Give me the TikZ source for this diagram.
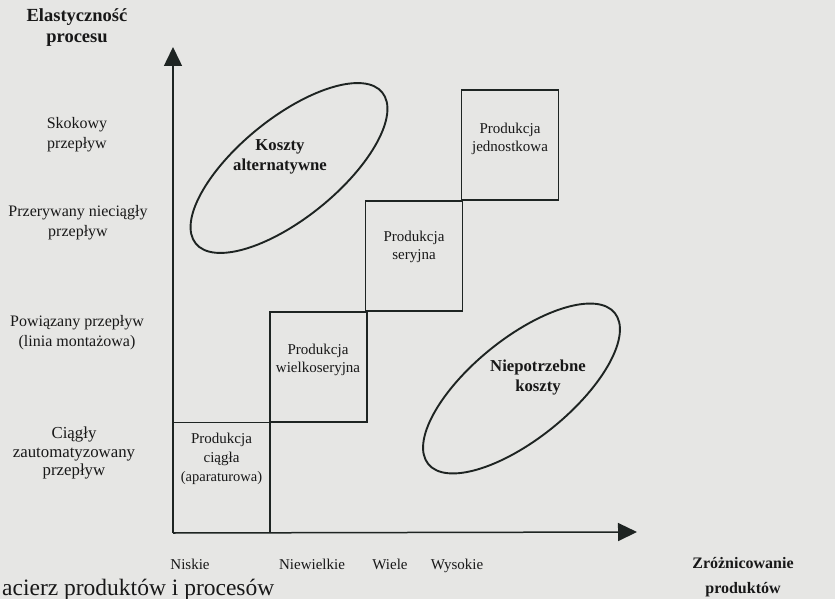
\documentclass[tikz,border=0pt]{standalone}
\usepackage{fontspec}
\setmainfont{Liberation Serif}
\usetikzlibrary{arrows.meta,shapes.geometric}
\definecolor{paper}{RGB}{230,230,228}
\definecolor{ink}{RGB}{30,36,34}
\definecolor{txt}{RGB}{24,24,24}

\begin{document}
\begin{tikzpicture}[x=1pt,y=-1pt,
  axis/.style={line width=1.5pt, draw=ink, -{Triangle[width=18pt,length=19pt]}},
  cell/.style={draw=ink, line width=1.6pt, minimum width=97pt, minimum height=110pt, inner sep=0pt, outer sep=0pt},
  costzone/.style={ellipse, draw=ink, line width=1.9pt, minimum width=240pt, minimum height=100pt, inner sep=0pt, rotate=39},
  lab/.style={text=txt, align=center, font=\fontsize{16}{20}\selectfont, inner sep=0pt},
  boldlab/.style={text=txt, align=center, font=\fontsize{16.7}{20}\selectfont\bfseries, inner sep=0pt},
  celltext/.style={text=txt, align=center, font=\fontsize{15}{18}\selectfont, inner sep=0pt},
  ticklab/.style={text=txt, anchor=base, font=\fontsize{15}{18}\selectfont, inner sep=0pt}
]
% page and frame
\fill[paper] (0,0) rectangle (835,599);
\useasboundingbox (0,0) rectangle (835,599);
\clip (0,0) rectangle (835,599);

% axes
\coordinate (O) at (173,533);
\coordinate (ytop) at (173,47);
\coordinate (xend) at (637,532);
\draw[axis] (O) -- (ytop);
\draw[axis] (O) -- (xend);

% staircase of production types
\node[cell] (b1) at (221.5,477.5) {};
\node[cell] (b2) at (318.5,367) {};
\node[cell] (b3) at (414,256) {};
\node[cell] (b4) at (510,145) {};

\node[celltext] (t4) at (510,139) {Produkcja\\jednostkowa};
\node[celltext] (t3) at (414,247) {Produkcja\\seryjna};
\node[celltext] (t2) at (318,360) {Produkcja\\wielkoseryjna};
\node[celltext, font=\fontsize{15}{19}\selectfont] (t1) at (221.5,459) {Produkcja\\ciągła\\{\fontsize{14.5}{19}\selectfont(aparaturowa)}};

% cost zones
\node[costzone] (altzone) at (289,168) {};
\node[costzone] (wastezone) at (521.5,388.5) {};
\node[boldlab] (alttext) at (280,156.5) {Koszty\\alternatywne};
\node[boldlab] (wastetext) at (538,378) {Niepotrzebne\\koszty};

% vertical axis labels
\node[boldlab, font=\fontsize{18.5}{21}\selectfont\bfseries] (ytitle) at (77,28) {Elastyczność\\procesu};
\node[lab] (f1) at (77,135) {Skokowy\\przepływ};
\node[lab] (f2) at (78,223) {Przerywany nieciągły\\przepływ};
\node[lab] (f3) at (77,333) {Powiązany przepływ\\(linia montażowa)};
\node[lab, font=\fontsize{16.8}{18.5}\selectfont] (f4) at (74,453) {Ciągły\\zautomatyzowany\\przepływ};

% horizontal axis labels
\node[ticklab] (v1) at (190,569) {Niskie};
\node[ticklab] (v2) at (312,569) {Niewielkie};
\node[ticklab] (v3) at (390,569) {Wiele};
\node[ticklab] (v4) at (457,569) {Wysokie};
\node[boldlab, font=\fontsize{16}{25}\selectfont\bfseries] (xtitle) at (743,577.5) {Zróżnicowanie\\produktów};

% caption line, running off the page edges
\node[anchor=base west, text=txt, font=\fontsize{23.5}{28}\selectfont, inner sep=0pt] (cap) at (2,595) {acierz produktów i procesów};
\end{tikzpicture}
\end{document}
